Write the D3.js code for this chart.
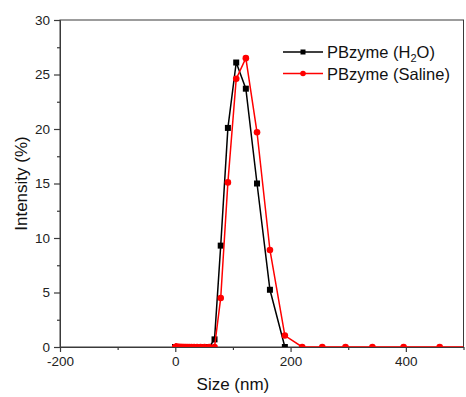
<!DOCTYPE html>
<html>
<head>
<meta charset="utf-8">
<script src="https://cdn.jsdelivr.net/npm/d3@7"></script>
<style>
  html, body { margin: 0; padding: 0; background: #fff; }
  svg { display: block; font-family: "Liberation Sans", Arial, sans-serif; }
</style>
</head>
<body>
<div id="chart"></div>
<script>
// size bins (nm)
const sizes = [0.4, 0.4632, 0.5365, 0.6213, 0.7195, 0.8332, 0.9649, 1.117, 1.294, 1.499,
  1.736, 2.01, 2.328, 2.696, 3.122, 3.615, 4.187, 4.849, 5.615, 6.503,
  7.531, 8.721, 10.1, 11.7, 13.54, 15.69, 18.17, 21.04, 24.36, 28.21,
  32.67, 37.84, 43.82, 50.75, 58.77, 68.06, 78.82, 91.28, 105.7, 122.4,
  141.8, 164.2, 190.1, 220.2, 255.0, 295.3, 342.0, 396.1, 458.7, 531.2];

// intensity (%) — H2O stops at 190.1 nm
const h2o = [0, 0, 0, 0, 0, 0, 0, 0, 0, 0,
  0, 0, 0, 0, 0, 0, 0, 0, 0, 0,
  0, 0, 0, 0, 0, 0, 0, 0, 0, 0,
  0, 0, 0, 0, 0, 0.7, 9.3, 20.1, 26.1, 23.7,
  15.0, 5.25, 0];

const saline = [0, 0, 0, 0, 0, 0, 0, 0, 0, 0,
  0, 0, 0, 0, 0, 0, 0, 0, 0, 0,
  0, 0, 0, 0, 0, 0, 0, 0, 0, 0,
  0, 0, 0, 0, 0, 0, 4.5, 15.1, 24.6, 26.5,
  19.7, 8.9, 1.05, 0, 0, 0, 0, 0, 0, 0];

const xTicks = [-200, 0, 200, 400];
const xMinor = [-100, 100, 300, 500];
const yTicks = [0, 5, 10, 15, 20, 25, 30];
const yMinor = [2.5, 7.5, 12.5, 17.5, 22.5, 27.5];

const seriesNames = ["PBzyme (H", "PBzyme (Saline)"];

const W = 466, H = 397;
const margin = {top: 20, right: 2.5, bottom: 50, left: 60};
const width = W - margin.left - margin.right;
const height = H - margin.top - margin.bottom;
const axisColor = "#3a3a3a";

const svg = d3.select("#chart")
  .append("svg")
  .attr("width", W)
  .attr("height", H);

const g = svg.append("g")
  .attr("transform", `translate(${margin.left},${margin.top})`);

const x = d3.scaleLinear().domain([-200, 500]).range([0, width]);
const y = d3.scaleLinear().domain([0, 30]).range([height, 0]);

// clip so markers on the baseline are cut in half
g.append("clipPath").attr("id", "plotclip")
  .append("rect").attr("width", width).attr("height", height);

// frame
g.append("rect")
  .attr("width", width).attr("height", height)
  .attr("fill", "none")
  .attr("stroke", axisColor)
  .attr("stroke-width", 1);

// axes (plain hyphen for negatives, like the original)
const fmt = d => String(d);
g.append("g")
  .attr("transform", `translate(0,${height})`)
  .call(d3.axisBottom(x).tickValues(xTicks).tickFormat(fmt).tickSize(5).tickSizeOuter(0).tickPadding(4));
g.append("g")
  .attr("transform", `translate(0,${height})`)
  .call(d3.axisBottom(x).tickValues(xMinor).tickSize(3).tickFormat("").tickSizeOuter(0));

g.append("g")
  .call(d3.axisLeft(y).tickValues(yTicks).tickFormat(fmt).tickSize(6).tickSizeOuter(0).tickPadding(4));
g.append("g")
  .call(d3.axisLeft(y).tickValues(yMinor).tickSize(3).tickFormat("").tickSizeOuter(0));

g.selectAll(".domain").attr("stroke", axisColor);
g.selectAll(".tick line").attr("stroke", axisColor).attr("stroke-width", 1.2);
g.selectAll(".tick text")
  .style("font-size", "13.5px")
  .attr("fill", "#222")
  .style("font-family", "'Liberation Sans', Arial, sans-serif");

// axis titles
svg.append("text")
  .attr("x", margin.left + x(0) + (x(200) - x(0)) / 2)
  .attr("y", 390)
  .attr("text-anchor", "middle")
  .style("font-size", "17px")
  .attr("fill", "#111")
  .text("Size (nm)");

svg.append("text")
  .attr("transform", `translate(27,${margin.top + height / 2}) rotate(-90)`)
  .attr("text-anchor", "middle")
  .style("font-size", "17px")
  .attr("fill", "#111")
  .text("Intensity (%)");

// lines
const line = d3.line()
  .x(d => x(d[0]))
  .y(d => y(d[1]));

const plot = g.append("g").attr("clip-path", "url(#plotclip)");

const h2oPts = h2o.map((v, i) => [sizes[i], v]);
const salPts = saline.map((v, i) => [sizes[i], v]);

plot.append("path")
  .datum(h2oPts)
  .attr("fill", "none")
  .attr("stroke", "#000")
  .attr("stroke-width", 1.5)
  .attr("d", line);

plot.selectAll(".sq")
  .data(h2oPts)
  .enter()
  .append("rect")
  .attr("class", "sq")
  .attr("x", d => x(d[0]) - 3)
  .attr("y", d => y(d[1]) - 3)
  .attr("width", 6)
  .attr("height", 6)
  .attr("fill", "#000");

plot.append("path")
  .datum(salPts)
  .attr("fill", "none")
  .attr("stroke", "#ff0000")
  .attr("stroke-width", 1.5)
  .attr("d", line);

plot.selectAll(".dot")
  .data(salPts)
  .enter()
  .append("circle")
  .attr("class", "dot")
  .attr("cx", d => x(d[0]))
  .attr("cy", d => y(d[1]))
  .attr("r", 3.3)
  .attr("fill", "#ff0000");

// legend
const legend = svg.append("g");
const lx0 = 283, lx1 = 323;

legend.append("line")
  .attr("x1", lx0).attr("x2", lx1).attr("y1", 52).attr("y2", 52)
  .attr("stroke", "#000").attr("stroke-width", 1.5);
legend.append("rect")
  .attr("x", (lx0 + lx1) / 2 - 2.5).attr("y", 52 - 2.5)
  .attr("width", 5).attr("height", 5).attr("fill", "#000");
const t1 = legend.append("text")
  .attr("x", 327).attr("y", 58)
  .style("font-size", "16.5px")
  .attr("fill", "#111");
t1.append("tspan").text(seriesNames[0]);
t1.append("tspan").attr("dy", 4).style("font-size", "11px").text("2");
t1.append("tspan").attr("dy", -4).text("O)");

legend.append("line")
  .attr("x1", lx0).attr("x2", lx1).attr("y1", 73.5).attr("y2", 73.5)
  .attr("stroke", "#ff0000").attr("stroke-width", 1.5);
legend.append("circle")
  .attr("cx", (lx0 + lx1) / 2).attr("cy", 73.5)
  .attr("r", 2.8).attr("fill", "#ff0000");
legend.append("text")
  .attr("x", 327).attr("y", 79.5)
  .style("font-size", "16.5px")
  .attr("fill", "#111")
  .text(seriesNames[1]);
</script>
</body>
</html>
